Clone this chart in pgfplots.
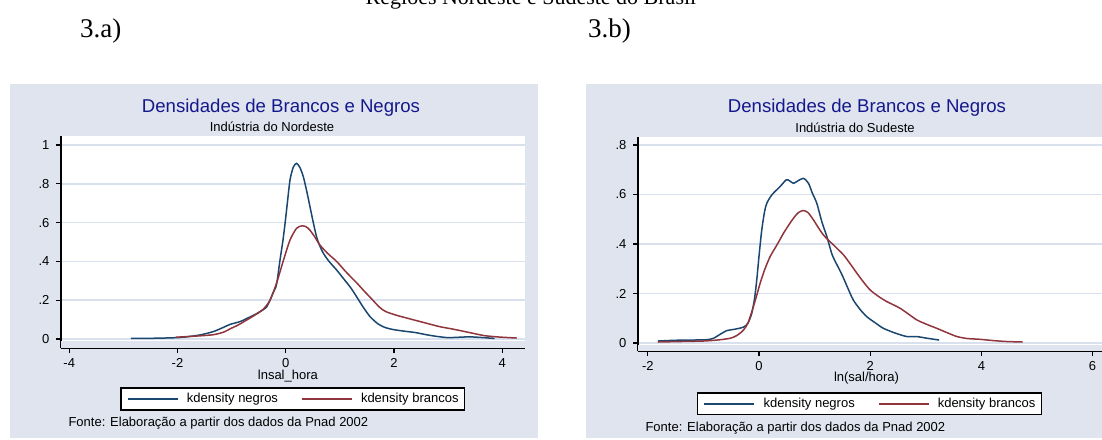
\documentclass[border=0pt]{standalone}
\usepackage{pgfplots}
\pgfplotsset{compat=1.18}
\usepackage{fontspec}
\setmainfont{Liberation Serif}
\newfontfamily\arial{Liberation Sans}

\definecolor{panelbg}{RGB}{223,228,239}
\definecolor{gridc}{RGB}{218,225,238}
\definecolor{negros}{RGB}{26,71,111}
\definecolor{brancos}{RGB}{144,53,59}
\definecolor{ttl}{RGB}{20,24,140}

\newcommand{\lbl}{\arial\fontsize{13}{15}\selectfont}
\newcommand{\ttlf}{\arial\fontsize{18.6}{21}\selectfont}

% kernel densities
\pgfplotstableread{
x y
-2.86 0.003
-2.4 0.004
-1.95 0.008
-1.6 0.02
-1.34 0.038
-1.15 0.06
-1.03 0.075
-0.84 0.09
-0.7 0.108
-0.54 0.13
-0.42 0.15
-0.35 0.166
-0.29 0.2
-0.23 0.24
-0.17 0.28
-0.105 0.407
-0.05 0.51
-0.01 0.6
0.03 0.70
0.08 0.82
0.14 0.885
0.2 0.905
0.26 0.885
0.325 0.837
0.39 0.76
0.45 0.68
0.51 0.6
0.57 0.527
0.63 0.48
0.70 0.44
0.8 0.4
0.94 0.356
1.1 0.3
1.2 0.265
1.31 0.218
1.43 0.165
1.56 0.115
1.71 0.077
1.85 0.058
2.0 0.048
2.2 0.04
2.4 0.033
2.6 0.022
2.8 0.013
3.0 0.007
3.2 0.009
3.4 0.011
3.6 0.008
3.86 0.003
}\neNeg

\pgfplotstableread{
x y
-2.03 0.009
-1.6 0.016
-1.34 0.022
-1.15 0.035
-1.03 0.052
-0.88 0.072
-0.72 0.098
-0.56 0.125
-0.41 0.155
-0.29 0.2
-0.17 0.287
-0.04 0.407
0.08 0.51
0.2 0.57
0.3 0.583
0.38 0.578
0.45 0.56
0.54 0.525
0.63 0.485
0.78 0.44
0.94 0.40
1.1 0.35
1.21 0.318
1.31 0.29
1.44 0.25
1.56 0.215
1.74 0.162
1.86 0.14
2.05 0.122
2.25 0.107
2.55 0.085
2.84 0.064
3.05 0.053
3.23 0.043
3.45 0.03
3.68 0.017
3.95 0.01
4.27 0.005
}\neBra

\pgfplotstableread{
x y
-1.82 0.008
-1.5 0.011
-1.2 0.012
-0.95 0.013
-0.82 0.019
-0.7 0.035
-0.58 0.05
-0.45 0.055
-0.28 0.064
-0.2 0.08
-0.13 0.12
-0.08 0.18
-0.04 0.255
0.0 0.35
0.05 0.457
0.1 0.53
0.14 0.564
0.23 0.598
0.38 0.632
0.49 0.659
0.55 0.655
0.62 0.645
0.7 0.655
0.80 0.665
0.89 0.645
0.96 0.605
1.04 0.564
1.13 0.49
1.22 0.43
1.31 0.36
1.37 0.33
1.45 0.295
1.52 0.262
1.63 0.205
1.70 0.172
1.82 0.135
1.94 0.106
2.1 0.08
2.24 0.059
2.45 0.04
2.66 0.026
2.84 0.026
3.0 0.02
3.24 0.012
}\seNeg

\pgfplotstableread{
x y
-1.82 0.004
-1.4 0.006
-1.0 0.008
-0.75 0.012
-0.52 0.019
-0.4 0.03
-0.28 0.052
-0.2 0.08
-0.13 0.126
-0.05 0.185
0.02 0.241
0.1 0.295
0.20 0.349
0.32 0.395
0.44 0.443
0.54 0.478
0.62 0.504
0.7 0.525
0.79 0.535
0.88 0.527
0.98 0.497
1.07 0.465
1.16 0.436
1.25 0.415
1.34 0.396
1.43 0.376
1.52 0.356
1.64 0.32
1.76 0.282
1.88 0.246
2.0 0.214
2.15 0.188
2.30 0.167
2.42 0.154
2.54 0.14
2.7 0.115
2.84 0.093
3.02 0.075
3.20 0.059
3.38 0.042
3.56 0.026
3.75 0.018
3.97 0.015
4.2 0.01
4.45 0.006
4.74 0.004
}\seBra

\pgfplotsset{
  stata/.style={
    scale only axis, anchor=south west,
    axis x line*=bottom, axis y line*=left,
    axis line style={-, black, line width=1.2pt},
    tick align=outside, major tick length=5pt,
    tick style={black, line width=1.2pt},
    ticklabel style={font=\lbl},
    yticklabel style={xshift=-3pt},
    xticklabel style={yshift=-2pt},
    ymajorgrids, grid style={gridc, line width=1.6pt},
    axis background/.style={fill=white},
    xlabel style={font=\lbl, anchor=base},
    every axis plot/.append style={line width=1.5pt, smooth, tension=0.45},
    legend columns=2,
    legend style={anchor=center, draw=black, line width=1.1pt, fill=white,
      font=\lbl, inner xsep=6pt, inner ysep=5.5pt,
      nodes={inner sep=0pt},
      /tikz/every odd column/.append style={column sep=8.5pt},
      /tikz/every even column/.append style={column sep=23pt}},
    legend image code/.code={\draw[##1] (0pt,0pt) -- (50pt,0pt);},
  }
}

\begin{document}
\begin{tikzpicture}[x=1pt,y=1pt]
\fill[panelbg] (10,1) rectangle (538,355);
\fill[panelbg] (586,1) rectangle (1114,355);

\node[anchor=base, font=\fontsize{22}{24}\selectfont] at (531,434) {Regiões Nordeste e Sudeste do Brasil};
\node[anchor=base west, font=\fontsize{27}{30}\selectfont, inner sep=0pt] at (80,401) {3.a)};
\node[anchor=base west, font=\fontsize{27}{30}\selectfont, inner sep=0pt] at (588,401) {3.b)};

\node[font=\ttlf, text=ttl] at (281,331) {Densidades de Brancos e Negros};
\node[font=\lbl] at (272,312) {Indústria do Nordeste};
\node[font=\lbl, anchor=west] at (65,16) {Fonte: Elaboração a partir dos dados da Pnad 2002};

\node[font=\ttlf, text=ttl] at (867,331) {Densidades de Brancos e Negros};
\node[font=\lbl] at (855,311) {Indústria do Sudeste};
\node[font=\lbl, anchor=west] at (642,11) {Fonte: Elaboração a partir dos dados da Pnad 2002};

\begin{axis}[stata, at={(61pt,91pt)}, width=464pt, height=212pt,
  xmin=-4.153, xmax=4.423, ymin=-0.0464, ymax=1.046,
  xtick={-4,-2,0,2,4}, xticklabels={-4,-2,0,2,4},
  ytick={0,0.2,0.4,0.6,0.8,1}, yticklabels={0,.2,.4,.6,.8,1},
  xlabel={lnsal\_hora},
  xlabel style={at={(axis description cs:0.489,-0.147)}},
  legend style={at={(0.4995,-0.2406)}}]
\fill[panelbg] (rel axis cs:0,0) rectangle (rel axis cs:1,0.033);
\addplot[negros, forget plot] table {\neNeg};
\addplot[brancos, forget plot] table {\neBra};
\addlegendimage{negros, line width=1.5pt}
\addlegendentry{kdensity negros}
\addlegendimage{brancos, line width=1.5pt}
\addlegendentry{kdensity brancos}
\end{axis}

\begin{axis}[stata, at={(638pt,88pt)}, width=464pt, height=214pt,
  xmin=-2.176, xmax=6.169, ymin=-0.0323, ymax=0.832,
  xtick={-2,0,2,4,6}, xticklabels={-2,0,2,4,6},
  ytick={0,0.2,0.4,0.6,0.8}, yticklabels={0,.2,.4,.6,.8},
  xlabel={ln(sal/hora)},
  xlabel style={at={(axis description cs:0.4925,-0.143)}},
  legend style={at={(0.499,-0.2475)}}]
\fill[panelbg] (rel axis cs:0,0) rectangle (rel axis cs:1,0.028);
\addplot[negros, forget plot] table {\seNeg};
\addplot[brancos, forget plot] table {\seBra};
\addlegendimage{negros, line width=1.5pt}
\addlegendentry{kdensity negros}
\addlegendimage{brancos, line width=1.5pt}
\addlegendentry{kdensity brancos}
\end{axis}

\pgfresetboundingbox
\useasboundingbox (0,0) rectangle (1102,439);
\end{tikzpicture}
\end{document}
